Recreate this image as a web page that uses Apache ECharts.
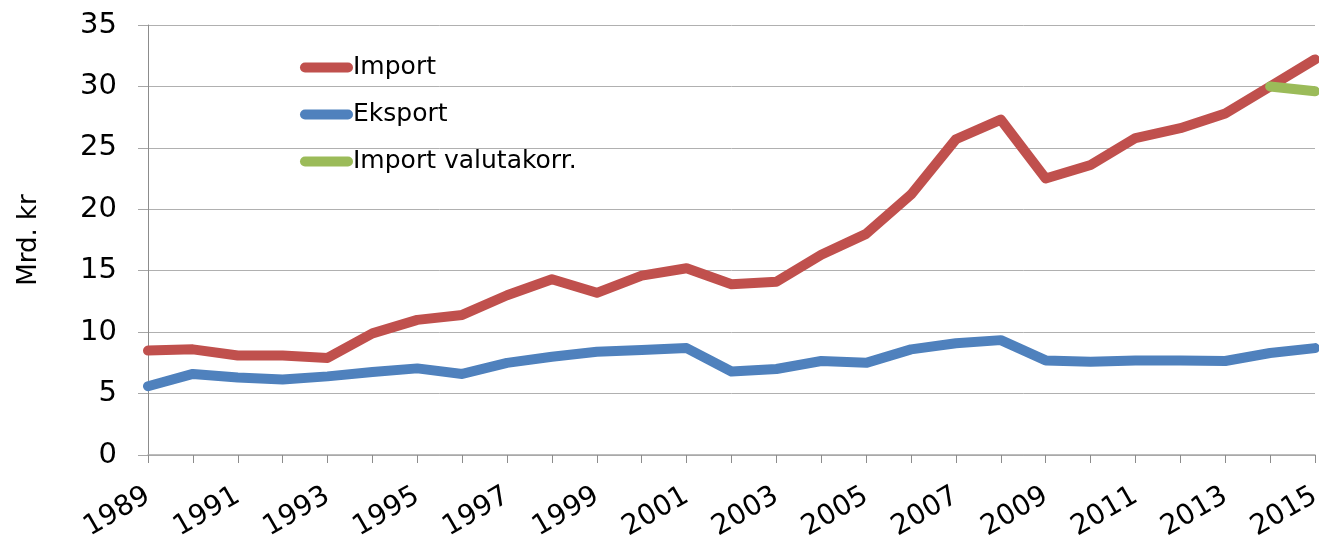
<!DOCTYPE html>
<html>
<head>
<meta charset="utf-8">
<script src="https://cdn.jsdelivr.net/npm/echarts@6/dist/echarts.min.js"></script>
<style>
html,body{margin:0;padding:0;background:#fff;}
#chart{width:1319px;height:537px;}
</style>
</head>
<body>
<div id="chart"></div>
<script>
const years = ['1989','1990','1991','1992','1993','1994','1995','1996','1997','1998','1999','2000','2001','2002','2003','2004','2005','2006','2007','2008','2009','2010','2011','2012','2013','2014','2015'];
const importData = [8.5,8.6,8.1,8.1,7.9,9.9,11.0,11.4,13.0,14.3,13.2,14.6,15.2,13.9,14.1,16.3,18.0,21.2,25.7,27.3,22.5,23.6,25.8,26.6,27.8,30.0,32.2];
const eksportData = [5.6,6.6,6.3,6.15,6.4,6.75,7.05,6.6,7.5,8.0,8.4,8.55,8.7,6.8,7.0,7.65,7.5,8.6,9.1,9.35,7.7,7.6,7.7,7.7,7.65,8.3,8.7];
const importValutaData = [null,null,null,null,null,null,null,null,null,null,null,null,null,null,null,null,null,null,null,null,null,null,null,null,null,30.0,29.6];
const seriesNames = ['Import','Eksport','Import valutakorr.'];
const yTicks = [0,5,10,15,20,25,30,35];

const font = 'DejaVu Sans';
const legendIcon = 'path://M5,0 H48 A5,5 0 0 1 48,10 H5 A5,5 0 0 1 5,0 Z';
const chart = echarts.init(document.getElementById('chart'));
function lineSeries(name, data, color, z) {
  return {
    name: name, type: 'line', data: data, symbol: 'none', z: z,
    connectNulls: false,
    lineStyle: {width: 10, color: color, cap: 'round', join: 'round'},
    itemStyle: {color: color}
  };
}
chart.setOption({
  animation: false,
  backgroundColor: '#ffffff',
  grid: {left: 148, right: 4, top: 25, bottom: 82, outerBoundsMode: 'none', containLabel: false},
  legend: {
    orient: 'vertical', left: 300, top: 55, padding: 0,
    itemWidth: 53, itemHeight: 10, itemGap: 22,
    icon: legendIcon,
    textStyle: {fontFamily: font, fontSize: 25, color: '#000', padding: [0,0,0,-5]},
    data: seriesNames
  },
  xAxis: {
    type: 'category', data: years, boundaryGap: false,
    axisLine: {lineStyle: {color: '#a6a6a6', width: 1.5}},
    axisTick: {show: true, length: 8, interval: 0, lineStyle: {color: '#8c8c8c'}},
    axisLabel: {interval: 1, rotate: 30, fontFamily: font, fontSize: 28, color: '#000', margin: 39}
  },
  yAxis: {
    type: 'value', min: yTicks[0], max: yTicks[yTicks.length-1], interval: 5,
    name: 'Mrd. kr', nameLocation: 'middle', nameGap: 106, nameRotate: 90,
    nameTextStyle: {fontFamily: font, fontSize: 26, color: '#000'},
    axisLine: {show: true, lineStyle: {color: '#8c8c8c'}},
    axisTick: {show: true, length: 10, lineStyle: {color: '#a6a6a6'}},
    axisLabel: {fontFamily: font, fontSize: 29, color: '#000', margin: 31},
    splitLine: {lineStyle: {color: '#b0b0b0', width: 1}}
  },
  series: [
    lineSeries(seriesNames[0], importData, '#C0504D', 3),
    lineSeries(seriesNames[1], eksportData, '#4F81BD', 2),
    lineSeries(seriesNames[2], importValutaData, '#9BBB59', 4)
  ]
});
</script>
</body>
</html>
